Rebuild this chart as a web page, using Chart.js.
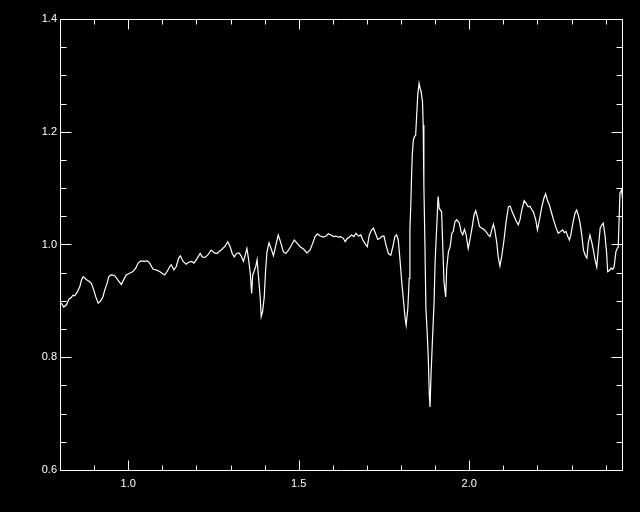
<!DOCTYPE html>
<html>
<head>
<meta charset="utf-8">
<script src="https://cdn.jsdelivr.net/npm/chart.js@4/dist/chart.umd.min.js"></script>
<style>
  html, body { margin: 0; padding: 0; background: #000; }
  #wrap { width: 640px; height: 512px; }
</style>
</head>
<body>
<div id="wrap"><canvas id="specChart" width="640" height="512"></canvas></div>
<script>
// spectrum (x = wavelength, y = normalised flux)
const wavelength = [
  0.804,0.811,0.819,0.826,0.833,0.838,0.843,0.851,0.858,0.863,
  0.868,0.877,0.887,0.892,0.899,0.905,0.912,0.919,0.926,0.931,
  0.938,0.943,0.950,0.960,0.970,0.980,0.988,0.994,1.004,1.014,
  1.022,1.029,1.037,1.046,1.056,1.063,1.073,1.082,1.092,1.099,
  1.107,1.115,1.122,1.126,1.134,1.141,1.148,1.153,1.161,1.170,
  1.176,1.186,1.193,1.201,1.211,1.217,1.225,1.233,1.243,1.253,
  1.260,1.266,1.276,1.284,1.292,1.299,1.305,1.311,1.318,1.325,
  1.331,1.338,1.343,1.348,1.352,1.358,1.362,1.365,1.369,1.374,
  1.378,1.382,1.387,1.390,1.394,1.399,1.403,1.407,1.413,1.419,
  1.426,1.433,1.440,1.448,1.455,1.462,1.470,1.477,1.487,1.497,
  1.504,1.514,1.524,1.533,1.541,1.548,1.555,1.563,1.572,1.580,
  1.587,1.594,1.602,1.609,1.616,1.623,1.631,1.636,1.643,1.648,
  1.655,1.662,1.668,1.675,1.682,1.688,1.694,1.701,1.707,1.714,
  1.719,1.725,1.732,1.738,1.745,1.750,1.756,1.763,1.770,1.776,
  1.782,1.787,1.792,1.797,1.802,1.807,1.812,1.815,1.820,1.824,
  1.826,1.829,1.831,1.833,1.836,1.839,1.843,1.846,1.849,1.853,
  1.856,1.859,1.863,1.865,1.867,1.870,1.873,1.877,1.880,1.883,
  1.885,1.888,1.892,1.897,1.900,1.905,1.908,1.909,1.912,1.919,
  1.922,1.926,1.931,1.934,1.939,1.944,1.949,1.953,1.958,1.963,
  1.971,1.976,1.981,1.986,1.991,1.997,2.002,2.009,2.014,2.019,
  2.024,2.030,2.037,2.043,2.049,2.056,2.061,2.066,2.071,2.075,
  2.081,2.085,2.090,2.095,2.102,2.108,2.115,2.120,2.126,2.134,
  2.139,2.144,2.149,2.154,2.161,2.167,2.173,2.178,2.183,2.188,
  2.195,2.200,2.206,2.213,2.219,2.224,2.229,2.235,2.242,2.247,
  2.255,2.261,2.268,2.274,2.279,2.284,2.289,2.294,2.298,2.304,
  2.310,2.315,2.320,2.325,2.330,2.335,2.340,2.345,2.349,2.354,
  2.359,2.364,2.369,2.374,2.379,2.384,2.389,2.393,2.398,2.403,
  2.406,2.411,2.416,2.421,2.425,2.430,2.434,2.437,2.442,2.447,
  2.450
];
const flux = [
  0.896,0.889,0.893,0.903,0.906,0.910,0.909,0.916,0.925,0.937,
  0.943,0.938,0.934,0.931,0.919,0.907,0.896,0.900,0.907,0.919,
  0.931,0.943,0.946,0.945,0.937,0.929,0.939,0.946,0.949,0.952,
  0.958,0.967,0.971,0.970,0.971,0.967,0.956,0.955,0.952,0.949,
  0.946,0.953,0.961,0.964,0.955,0.961,0.976,0.980,0.970,0.965,
  0.968,0.970,0.967,0.974,0.984,0.978,0.977,0.981,0.990,0.985,
  0.984,0.987,0.992,0.997,1.005,0.996,0.984,0.978,0.984,0.985,
  0.980,0.970,0.981,0.993,0.978,0.949,0.913,0.946,0.952,0.961,
  0.973,0.943,0.907,0.872,0.881,0.907,0.955,0.987,1.003,0.993,
  0.980,0.999,1.017,1.002,0.987,0.984,0.990,0.997,1.008,1.001,
  0.996,0.992,0.985,0.990,1.002,1.014,1.019,1.015,1.013,1.015,
  1.019,1.017,1.014,1.015,1.013,1.014,1.011,1.005,1.011,1.013,
  1.017,1.014,1.020,1.015,1.017,1.008,1.002,0.996,1.017,1.026,
  1.029,1.020,1.009,1.011,1.015,1.015,0.999,0.984,0.981,0.996,
  1.014,1.017,1.008,0.973,0.934,0.902,0.869,0.857,0.887,0.940,
  1.026,1.076,1.123,1.159,1.185,1.191,1.194,1.230,1.265,1.286,
  1.277,1.271,1.253,1.212,1.106,1.005,0.887,0.840,0.798,0.733,
  0.712,0.769,0.828,0.899,0.970,1.035,1.076,1.085,1.064,1.058,
  1.005,0.934,0.907,0.958,0.987,0.996,1.020,1.023,1.040,1.044,
  1.038,1.023,1.017,1.027,1.017,0.993,1.008,1.032,1.052,1.060,
  1.049,1.032,1.029,1.027,1.023,1.017,1.014,1.026,1.036,1.026,
  1.002,0.978,0.962,0.978,1.008,1.040,1.067,1.068,1.058,1.047,
  1.040,1.035,1.044,1.061,1.078,1.073,1.067,1.068,1.062,1.058,
  1.044,1.026,1.044,1.067,1.082,1.090,1.079,1.070,1.055,1.044,
  1.029,1.020,1.023,1.026,1.021,1.023,1.014,1.008,1.017,1.038,
  1.055,1.061,1.052,1.038,1.017,0.990,0.981,0.976,1.002,1.017,
  1.005,0.990,0.973,0.960,0.996,1.029,1.035,1.038,1.017,0.984,
  0.952,0.954,0.958,0.956,0.961,0.987,0.993,0.996,1.091,1.097,
  1.079
];

const xMajor = [1.0, 1.5, 2.0];
const yMajor = [0.6, 0.8, 1.0, 1.2, 1.4];
const xLimits = [0.8, 2.448];
const yLimits = [0.6, 1.4];
const xMinorStep = 0.1;
const yMinorStep = 0.05;

const points = wavelength.map((w, i) => ({ x: w, y: flux[i] }));

// IDL style box: black page, white frame, inward ticks on all four sides
const boxFrame = {
  id: 'boxFrame',
  beforeDraw(chart) {
    const c = chart.ctx;
    c.save();
    c.fillStyle = '#000';
    c.fillRect(0, 0, chart.width, chart.height);
    c.restore();
  },
  afterDatasetsDraw(chart) {
    const c = chart.ctx;
    const a = chart.chartArea;
    const xs = chart.scales.x, ys = chart.scales.y;
    const L = Math.round(a.left) + 0.5, R = Math.round(a.right) + 0.5;
    const T = Math.round(a.top) + 0.5, B = Math.round(a.bottom) + 0.5;
    c.save();
    c.strokeStyle = '#fff';
    c.lineWidth = 1;
    c.beginPath();
    c.rect(L, T, R - L, B - T);

    const isMajor = (v, list) => list.some(m => Math.abs(m - v) < 1e-6);

    for (let v = 0.8; v <= xLimits[1] + 1e-9; v += xMinorStep) {
      const val = Math.round(v * 10) / 10;
      const px = Math.round(xs.getPixelForValue(val)) + 0.5;
      const len = isMajor(val, xMajor) ? 10 : 5;
      c.moveTo(px, B); c.lineTo(px, B - len);
      c.moveTo(px, T); c.lineTo(px, T + len);
    }
    for (let v = yLimits[0]; v <= yLimits[1] + 1e-9; v += yMinorStep) {
      const val = Math.round(v * 100) / 100;
      const py = Math.round(ys.getPixelForValue(val)) + 0.5;
      const len = isMajor(val, yMajor) ? 11 : 6;
      c.moveTo(L, py); c.lineTo(L + len, py);
      c.moveTo(R, py); c.lineTo(R - len, py);
    }
    c.stroke();
    c.restore();
  }
};

new Chart(document.getElementById('specChart').getContext('2d'), {
  type: 'line',
  data: {
    datasets: [{
      data: points,
      borderColor: '#fff',
      borderWidth: 1.2,
      pointRadius: 0,
      fill: false,
      tension: 0
    }]
  },
  options: {
    responsive: false,
    animation: false,
    layout: { padding: { top: 19, right: 18, left: 0, bottom: 0 } },
    plugins: {
      legend: { display: false },
      tooltip: { enabled: false }
    },
    scales: {
      x: {
        type: 'linear',
        min: xLimits[0],
        max: xLimits[1],
        afterBuildTicks: s => { s.ticks = xMajor.map(v => ({ value: v })); },
        afterFit: s => { s.height = 42; },
        grid: { display: false, drawTicks: false, tickLength: 0 },
        border: { display: false },
        ticks: {
          color: '#fff',
          padding: 7,
          maxRotation: 0,
          font: { family: 'Liberation Sans', size: 11 },
          callback: v => Number(v).toFixed(1)
        }
      },
      y: {
        type: 'linear',
        min: yLimits[0],
        max: yLimits[1],
        afterBuildTicks: s => { s.ticks = yMajor.map(v => ({ value: v })); },
        afterFit: s => { s.width = 60; },
        grid: { display: false, drawTicks: false, tickLength: 0 },
        border: { display: false },
        ticks: {
          color: '#fff',
          padding: 3,
          font: { family: 'Liberation Sans', size: 11 },
          callback: v => Number(v).toFixed(1)
        }
      }
    }
  },
  plugins: [boxFrame]
});
</script>
</body>
</html>
